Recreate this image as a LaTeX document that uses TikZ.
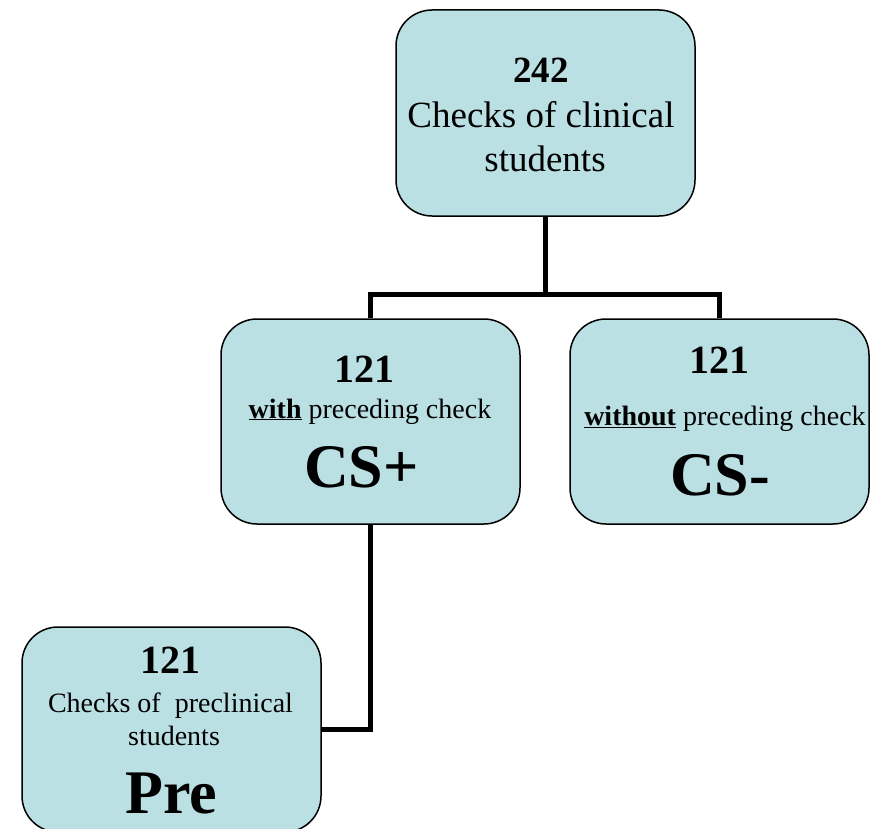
\documentclass[tikz,border=0pt]{standalone}
\usepackage{fontspec}
\setmainfont{Liberation Serif}
\usetikzlibrary{backgrounds,calc}
\definecolor{boxfill}{RGB}{186,224,228}
\begin{document}
\begin{tikzpicture}[x=1pt,y=-1pt,
  box/.style={draw=black, line width=1.5pt, fill=boxfill, rounded corners=36pt,
    minimum width=299pt, minimum height=205pt, inner sep=0pt},
  conn/.style={draw=black, line width=5pt},
  txt/.style={anchor=base, inner sep=0pt, outer sep=0pt},
  big/.style={font=\bfseries\fontsize{62}{62}\selectfont},
  num/.style={font=\bfseries\fontsize{40}{40}\selectfont},
  small/.style={font=\fontsize{28}{28}\selectfont}]
\useasboundingbox (0,0) rectangle (875,829);
% boxes
\node[box, minimum height=206pt] (top) at (545.5,113) {};
\node[box] (csp) at (370.5,421.5) {};
\node[box] (csm) at (719.5,421.5) {};
\node[box] (pre) at (171.5,729.5) {};
% connectors (behind the boxes)
\begin{scope}[on background layer]
\coordinate (bus) at ($(top.south)+(0,78)$);
\draw[conn] (top.south) -- (bus);
\draw[conn] (csp.north) |- (bus) -| (csm.north);
\draw[conn] (csp.south) |- (pre.east);
\end{scope}
% top texts
\node[txt, font=\bfseries\fontsize{37}{37}\selectfont] (t1) at (541,83) {242};
\node[txt, font=\fontsize{37}{37}\selectfont] (t2) at (541,128) {Checks of clinical};
\node[txt, font=\fontsize{37}{37}\selectfont] (t3) at (545,172) {students};
% CS+
\node[txt, num] (a1) at (364.5,382) {121};
\node[txt, small] (a2) at (370,418) {\underline{\textbf{with}} preceding check};
\node[txt, big] (a3) at (361.5,487) {CS+};
% CS-
\node[txt, num] (b1) at (719,373) {121};
\node[txt, small] (b2) at (725,425) {\underline{\textbf{without}} preceding check};
\node[txt, big] (b3) at (720,495) {CS-};
% Pre
\node[txt, num] (c1) at (170.5,673) {121};
\node[txt, small] (c2) at (170.5,712) {Checks of\ \ preclinical};
\node[txt, small] (c3) at (174,745) {students};
\node[txt, big] (c4) at (171.5,813) {Pre};
\end{tikzpicture}
\end{document}
